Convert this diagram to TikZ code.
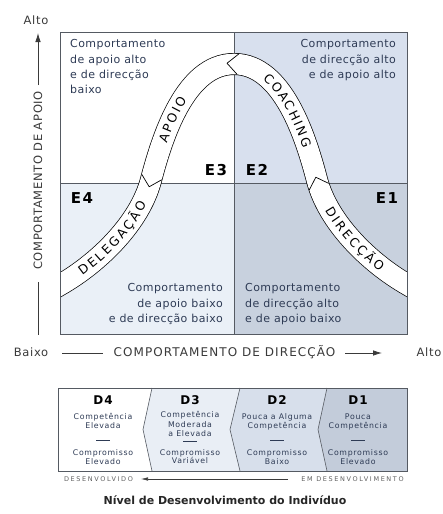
\documentclass[tikz,border=0pt]{standalone}
\usepackage{fontspec}
\setmainfont{DejaVu Sans}
\newfontfamily\qfont[LetterSpace=4]{DejaVu Sans}
\newfontfamily\axfont[LetterSpace=6]{DejaVu Sans}
\newfontfamily\axwfont[LetterSpace=9]{DejaVu Sans}
\newfontfamily\smfont[LetterSpace=9]{DejaVu Sans}
\newfontfamily\tinyfont[LetterSpace=25]{DejaVu Sans}
\newfontfamily\bandfam[WordSpace=0.55]{DejaVu Sans}
\usetikzlibrary{decorations.text,decorations.markings,arrows.meta}
\definecolor{qTR}{HTML}{D8E0EE}
\definecolor{qBL}{HTML}{EAF0F7}
\definecolor{qBR}{HTML}{C8D1DE}
\definecolor{bD3}{HTML}{E9EEF5}
\definecolor{bD2}{HTML}{D7DFEB}
\definecolor{bD1}{HTML}{C3CCDA}
\definecolor{qtext}{HTML}{2E3B55}
\definecolor{axgray}{HTML}{3A3A3A}
\definecolor{gridc}{HTML}{555A62}
\newcommand\bandfont{\bandfam\fontsize{12.5}{13}\selectfont}
\tikzset{
  qtxt/.style={font=\qfont\fontsize{11}{15.3}\selectfont, text=qtext, inner sep=0pt},
  elab/.style={font=\fontsize{15}{16}\selectfont\bfseries, inner sep=0pt},
  axtxt/.style={font=\axfont\fontsize{11.5}{13}\selectfont, text=axgray, inner sep=0pt},
  axwtxt/.style={font=\axwfont\fontsize{12}{13}\selectfont, text=axgray, inner sep=0pt},
  axline/.style={draw=axgray, line width=0.8pt},
  dlab/.style={font=\fontsize{12}{13}\selectfont\bfseries, inner sep=0pt},
  smtxt/.style={font=\smfont\fontsize{7.8}{9}\selectfont, text=qtext, inner sep=0pt, anchor=base},
  tinytxt/.style={font=\tinyfont\fontsize{6.5}{7}\selectfont, text=axgray!80, inner sep=0pt},
  shortrule/.style={draw=qtext, line width=0.7pt},
  chev/.style={draw=black, line width=0.7pt},
  gridline/.style={draw=gridc, line width=0.8pt},
}
\begin{document}
\begin{tikzpicture}[x=1pt,y=-1pt]
\useasboundingbox (0,0) rectangle (443,514);
\fill[white] (0,0) rectangle (443,514);
% quadrants
\fill[qTR] (234,32) rectangle (407,183);
\fill[qBL] (60,183) rectangle (234,334);
\fill[qBR] (234,183) rectangle (407,334);
\draw[gridline] (234,32) -- (234,334);
\draw[gridline] (60,183) -- (407,183);
% band
\begin{scope}
\clip (60,32) rectangle (407,334);
\draw[line width=22pt, black] (43,295) -- (60,285) .. controls (100,262) and (140,222) .. (151,180) .. controls (162,138) and (185,64) .. (234,64) .. controls (283,64) and (306,138) .. (317,180) .. controls (328,222) and (368,262) .. (408,285) -- (425,295);
\draw[line width=20.6pt, white] (43,295) -- (60,285) .. controls (100,262) and (140,222) .. (151,180) .. controls (162,138) and (185,64) .. (234,64) .. controls (283,64) and (306,138) .. (317,180) .. controls (328,222) and (368,262) .. (408,285) -- (425,295);
\end{scope}
% band texts
\path[decorate, decoration={text along path, text={|\bandfont|D E L E G A Ç Ã O}, text align=center, raise=-4.5pt}] (60,285) .. controls (100,262) and (140,222) .. (151,180);
\path[decorate, decoration={text along path, text={|\bandfont|A P O I O}, text align={left, left indent=40pt}, raise=-4.5pt}] (151,180) .. controls (162,138) and (185,64) .. (234,64);
\path[decorate, decoration={text along path, text={|\bandfont|C O A C H I N G}, text align=center, raise=-4.5pt}] (234,64) .. controls (283,64) and (306,138) .. (317,180);
\path[decorate, decoration={text along path, text={|\bandfont|D I R E C Ç Ã O}, text align=center, raise=-4.5pt}] (317,180) .. controls (328,222) and (368,262) .. (408,285);
% chevrons
\path[decorate, decoration={markings, mark=at position 3pt with {\draw[chev] (0,10.3) -- (-10,0) -- (0,-10.3);}}] (151,180) .. controls (162,138) and (185,64) .. (234,64);
\path[decorate, decoration={markings, mark=at position 4pt with {\draw[chev] (0,10.3) -- (-11,0) -- (0,-10.3);}}] (234,64) .. controls (283,64) and (306,138) .. (317,180);
\path[decorate, decoration={markings, mark=at position 7pt with {\draw[chev] (0,10.3) -- (-10,0) -- (0,-10.3);}}] (317,180) .. controls (328,222) and (368,262) .. (408,285);
% border
\draw[gridline] (60,32) rectangle (407,334);
% quadrant texts
\node[qtxt, anchor=north west, align=left] (tl) at (70,39.5) {Comportamento\\de apoio alto\\e de direcção\\baixo};
\node[qtxt, anchor=north east, align=right] (tr) at (396,39.5) {Comportamento\\de direcção alto\\e de apoio alto};
\node[qtxt, anchor=north east, align=right] (bl) at (223,283.5) {Comportamento\\de apoio baixo\\e de direcção baixo};
\node[qtxt, anchor=north west, align=left] (br) at (245,283.5) {Comportamento\\de direcção alto\\e de apoio baixo};
% E labels
\node[elab] (e3) at (216,170) {E\kern1.5pt3};
\node[elab] (e2) at (257,170) {E\kern1.5pt2};
\node[elab] (e4) at (82,198) {E\kern1.5pt4};
\node[elab] (e1) at (387,198) {E\kern1.5pt1};
% vertical axis
\node[axtxt] (valto) at (36,20) {Alto};
\coordinate (vtip) at (38,33);
\coordinate (vstart) at (38,85);
\draw[axline, -{Latex[length=9pt,width=5.5pt]}] (vstart) -- (vtip);
\node[axtxt, rotate=90] (vlab) at (38,180.5) {COMPORTAMENTO DE APOIO};
\coordinate (vl1) at (38,282);
\coordinate (vl2) at (38,335);
\draw[axline] (vl1) -- (vl2);
% horizontal axis
\node[axtxt] (hbaixo) at (31,352.5) {Baixo};
\coordinate (hl1) at (62,353);
\coordinate (hl2) at (103,353);
\draw[axline] (hl1) -- (hl2);
\node[axwtxt] (hlab) at (224.5,352.5) {COMPORTAMENTO DE DIRECÇÃO};
\coordinate (hl3) at (345,353);
\coordinate (hl4) at (382,353);
\draw[axline, -{Latex[length=9pt,width=5.5pt]}] (hl3) -- (hl4);
\node[axtxt] (halto) at (429,352.5) {Alto};
% bottom box
\fill[bD3] (152,388) -- (240,388) -- (230,429.5) -- (240,471) -- (152,471) -- (143,429.5) -- cycle;
\fill[bD2] (240,388) -- (327,388) -- (318,429.5) -- (327,471) -- (240,471) -- (230,429.5) -- cycle;
\fill[bD1] (327,388) -- (407,388) -- (407,471) -- (327,471) -- (318,429.5) -- cycle;
\draw[draw=gridc, line width=0.6pt] (152,388) -- (143,429.5) -- (152,471);
\draw[draw=gridc, line width=0.6pt] (240,388) -- (230,429.5) -- (240,471);
\draw[draw=gridc, line width=0.6pt] (327,388) -- (318,429.5) -- (327,471);
\draw[gridline] (58,388) rectangle (407,471);
% D4
\node[dlab] (d4) at (103,400) {D\kern1pt4};
\node[smtxt] (d4a) at (103,419) {Competência};
\node[smtxt] (d4b) at (103,428) {Elevada};
\draw[shortrule] (96,440) -- (110,440);
\node[smtxt] (d4c) at (103,455) {Compromisso};
\node[smtxt] (d4d) at (103,464) {Elevado};
% D3
\node[dlab] (d3) at (190,400) {D\kern1pt3};
\node[smtxt] (d3a) at (190,417) {Competência};
\node[smtxt] (d3b) at (190,427) {Moderada};
\node[smtxt] (d3c) at (190,436) {a Elevada};
\draw[shortrule] (183,441) -- (197,441);
\node[smtxt] (d3d) at (190,455) {Compromisso};
\node[smtxt] (d3e) at (190,463.5) {Variável};
% D2
\node[dlab] (d2) at (277,400) {D\kern1pt2};
\node[smtxt] (d2a) at (277,419) {Pouca a Alguma};
\node[smtxt] (d2b) at (277,428) {Competência};
\draw[shortrule] (270,440) -- (284,440);
\node[smtxt] (d2c) at (277,455) {Compromisso};
\node[smtxt] (d2d) at (277,464) {Baixo};
% D1
\node[dlab] (d1) at (358,400) {D\kern1pt1};
\node[smtxt] (d1a) at (358,419) {Pouca};
\node[smtxt] (d1b) at (358,428) {Competência};
\draw[shortrule] (351,440) -- (365,440);
\node[smtxt] (d1c) at (358,455) {Compromisso};
\node[smtxt] (d1d) at (358,464) {Elevado};
% development arrow
\node[tinytxt] (dev) at (98.5,479) {DESENVOLVIDO};
\node[tinytxt] (emdev) at (352.5,479) {EM DESENVOLVIMENTO};
\coordinate (da1) at (288,479);
\coordinate (da2) at (141,479);
\draw[draw=axgray, line width=0.6pt, -{Latex[length=7pt,width=3.5pt]}] (da1) -- (da2);
\node[font=\fontsize{11}{12}\selectfont\bfseries, text=black!85, inner sep=0pt] (title) at (225,500) {Nível de Desenvolvimento do Indivíduo};
\end{tikzpicture}
\end{document}
